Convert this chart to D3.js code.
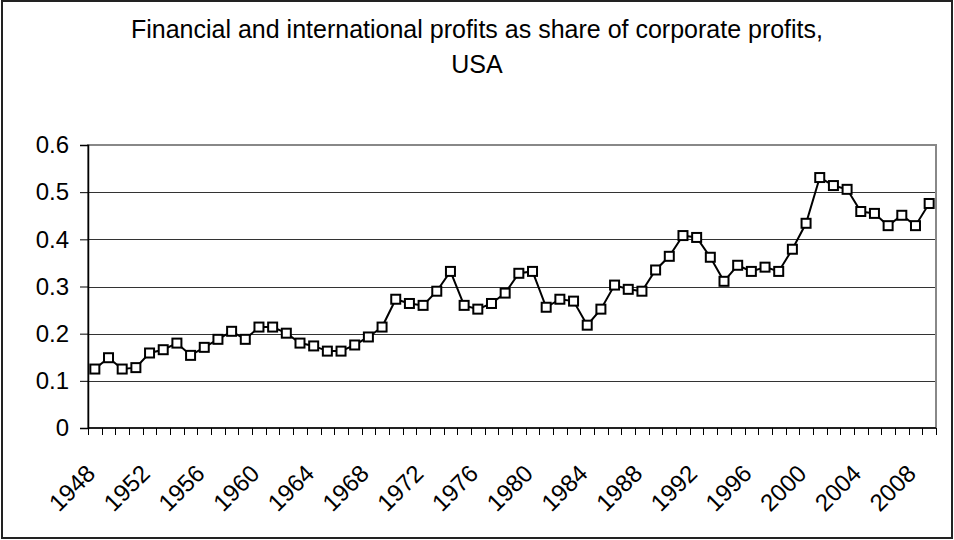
<!DOCTYPE html>
<html>
<head>
<meta charset="utf-8">
<script src="https://cdn.jsdelivr.net/npm/d3@7"></script>
<style>
  body { margin: 0; background: #fff; }
  svg { display: block; font-family: "Liberation Sans", Arial, sans-serif; }
</style>
</head>
<body>
<svg width="954" height="540"></svg>
<script>
// Chart data
var years = [1948, 1949, 1950, 1951, 1952, 1953, 1954, 1955, 1956, 1957,
    1958, 1959, 1960, 1961, 1962, 1963, 1964, 1965, 1966, 1967,
    1968, 1969, 1970, 1971, 1972, 1973, 1974, 1975, 1976, 1977,
    1978, 1979, 1980, 1981, 1982, 1983, 1984, 1985, 1986, 1987,
    1988, 1989, 1990, 1991, 1992, 1993, 1994, 1995, 1996, 1997,
    1998, 1999, 2000, 2001, 2002, 2003, 2004, 2005, 2006, 2007,
    2008, 2009];

var shares = [0.125, 0.149, 0.125, 0.128, 0.159, 0.166, 0.180, 0.154, 0.171, 0.188,
    0.205, 0.188, 0.214, 0.214, 0.201, 0.180, 0.174, 0.163, 0.163, 0.176,
    0.193, 0.214, 0.273, 0.264, 0.260, 0.290, 0.332, 0.260, 0.252, 0.264,
    0.286, 0.328, 0.332, 0.256, 0.273, 0.269, 0.218, 0.252, 0.303, 0.294,
    0.290, 0.335, 0.364, 0.408, 0.404, 0.362, 0.311, 0.345, 0.332, 0.341,
    0.332, 0.379, 0.434, 0.531, 0.514, 0.506, 0.459, 0.455, 0.429, 0.451,
    0.429, 0.476];

var xTickLabels = [1948, 1952, 1956, 1960, 1964, 1968, 1972, 1976, 1980,
    1984, 1988, 1992, 1996, 2000, 2004, 2008];
var yTicks = [0, 0.1, 0.2, 0.3, 0.4, 0.5, 0.6];

var titleLines = ['Financial and international profits as share of corporate profits,', 'USA'];

var data = years.map(function(y, i) { return {year: y, value: shares[i]}; });

var svg = d3.select('svg');
var svgWidth = +svg.attr('width');
var svgHeight = +svg.attr('height');

// plot area
var padding = {t: 145, r: 18, b: 112, l: 88};
var chartWidth = svgWidth - padding.l - padding.r;
var chartHeight = svgHeight - padding.t - padding.b;

// outer chart border
svg.append('rect')
    .attr('x', 2).attr('y', 1)
    .attr('width', 950).attr('height', 537)
    .attr('fill', 'none')
    .attr('stroke', '#222')
    .attr('stroke-width', 2);

// title
svg.append('text')
    .attr('x', 477)
    .attr('text-anchor', 'middle')
    .style('font-size', '25px')
    .attr('fill', '#000')
    .selectAll('tspan')
    .data(titleLines)
    .enter()
    .append('tspan')
    .attr('x', 477)
    .attr('y', function(d, i) { return 38 + i * 35; })
    .text(function(d) { return d; });

var chartG = svg.append('g')
    .attr('transform', 'translate(' + [padding.l, padding.t] + ')');

var xScale = d3.scaleBand()
    .domain(years)
    .range([0, chartWidth]);

var yScale = d3.scaleLinear()
    .domain([0, 0.6])
    .range([chartHeight, 0]);

// horizontal gridlines
chartG.append('g')
    .selectAll('line')
    .data(yTicks.slice(1))
    .enter()
    .append('line')
    .attr('x1', 0)
    .attr('x2', chartWidth)
    .attr('y1', function(d) { return Math.round(yScale(d)) + 0.5; })
    .attr('y2', function(d) { return Math.round(yScale(d)) + 0.5; })
    .attr('stroke', '#333')
    .attr('stroke-width', 1);

// plot area border (gray)
chartG.append('rect')
    .attr('x', 0).attr('y', 0)
    .attr('width', chartWidth).attr('height', chartHeight)
    .attr('fill', 'none')
    .attr('stroke', '#888')
    .attr('stroke-width', 2);

// y axis
var yAxis = chartG.append('g')
    .call(d3.axisLeft(yScale)
        .tickValues(yTicks)
        .tickSize(8)
        .tickPadding(11)
        .tickFormat(function(d) { return d === 0 ? '0' : d3.format('.1f')(d); }));
yAxis.select('.domain').attr('stroke', '#000').attr('stroke-width', 1.5);
yAxis.selectAll('.tick line').attr('stroke', '#000');
yAxis.selectAll('text')
    .style('font-size', '24px')
    .style('font-family', '"Liberation Sans", Arial, sans-serif')
    .attr('fill', '#000');

// x axis: ticks at band boundaries
var xAxisG = chartG.append('g')
    .attr('transform', 'translate(0,' + chartHeight + ')');

xAxisG.append('line')
    .attr('x1', 0).attr('x2', chartWidth)
    .attr('y1', 0).attr('y2', 0)
    .attr('stroke', '#000')
    .attr('stroke-width', 1.5);

xAxisG.selectAll('line.tick')
    .data(years.concat([null]))
    .enter()
    .append('line')
    .attr('class', 'tick')
    .attr('x1', function(d, i) { return Math.round(i * xScale.step()) + 0.5; })
    .attr('x2', function(d, i) { return Math.round(i * xScale.step()) + 0.5; })
    .attr('y1', 0)
    .attr('y2', 7)
    .attr('stroke', '#000');

// rotated year labels
xAxisG.selectAll('text')
    .data(xTickLabels)
    .enter()
    .append('text')
    .attr('transform', function(d) {
        var x = xScale(d) + xScale.bandwidth() / 2 - 4;
        return 'translate(' + [x, 41] + ') rotate(-45)';
    })
    .attr('text-anchor', 'end')
    .attr('dy', '0.35em')
    .style('font-size', '24px')
    .attr('fill', '#000')
    .text(function(d) { return d; });

// the line
var lineInterpolator = d3.line()
    .x(function(d) { return xScale(d.year) + xScale.bandwidth() / 2; })
    .y(function(d) { return yScale(d.value); });

chartG.append('path')
    .datum(data)
    .attr('d', lineInterpolator)
    .attr('fill', 'none')
    .attr('stroke', '#000')
    .attr('stroke-width', 2);

// square markers
chartG.append('g')
    .selectAll('rect')
    .data(data)
    .enter()
    .append('rect')
    .attr('x', function(d) { return xScale(d.year) + xScale.bandwidth() / 2 - 4.5; })
    .attr('y', function(d) { return yScale(d.value) - 4.5; })
    .attr('width', 9)
    .attr('height', 9)
    .attr('fill', '#fff')
    .attr('stroke', '#000')
    .attr('stroke-width', 2);
</script>
</body>
</html>
